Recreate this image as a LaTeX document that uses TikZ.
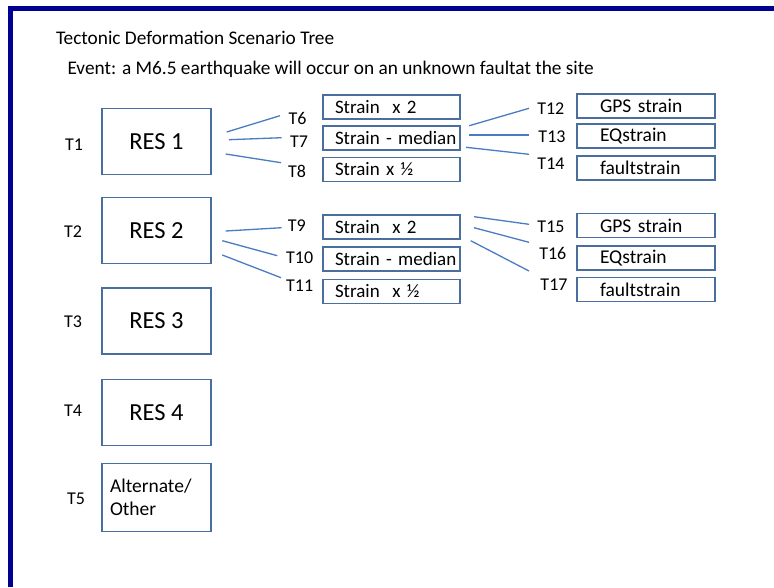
\documentclass[tikz,border=0pt]{standalone}
\usepackage{fontspec}
\setmainfont{Carlito}
\definecolor{framenavy}{HTML}{000092}
\definecolor{boxblue}{HTML}{4A6F9F}
\definecolor{linkblue}{HTML}{4A7CC4}
\begin{document}
\begin{tikzpicture}[x=1pt,y=-1pt,
  txt/.style={inner sep=0pt, outer sep=0pt, font=\fontsize{19.3}{23}\selectfont},
  tlabel/.style={inner sep=0pt, outer sep=0pt, font=\fontsize{18}{22}\selectfont},
  boxc/.style={draw=boxblue, line width=1.4pt, inner sep=0pt, outer sep=0pt},
  res/.style={boxc, minimum width=109pt, minimum height=66pt, font=\fontsize{24.5}{29}\selectfont},
  altbox/.style={boxc, minimum width=109pt, minimum height=68pt, inner xsep=8pt,
    text width=93pt, align=left, font=\fontsize{19.5}{23}\selectfont},
  strainbox/.style={boxc, minimum height=24pt, inner xsep=12pt, text width=113pt,
    align=left, font=\fontsize{19}{22}\selectfont},
  databox/.style={boxc, minimum height=24pt, inner xsep=23pt, text width=92pt,
    align=left, font=\fontsize{19.5}{22}\selectfont},
  link/.style={draw=linkblue, line width=1.3pt}]
\useasboundingbox (0,0) rectangle (774,587);
\fill[white] (0,0) rectangle (774,587);

% page frame: top and left rules
\coordinate (frameR) at (774,8.5);
\coordinate (frameC) at (10.6,8.5);
\coordinate (frameB) at (10.6,587);
\draw[framenavy, line width=5.2pt, line join=miter] (frameR) -- (frameC) -- (frameB);

% headings
\node[txt, anchor=base west] (title) at (56,44.3) {Tectonic Deformation Scenario Tree};
\node[txt, anchor=base west] (event) at (67.5,74) {Event: a M6.5 earthquake will occur on an unknown faultat the site};

% first level: resolutions
\node[res] (res1) at (156.5,141.5) {RES 1};
\node[res] (res2) at (156.5,230.3) {RES 2};
\node[res] (res3) at (156.5,321) {RES 3};
\node[res] (res4) at (156.5,412.5) {RES 4};
\node[altbox] (res5) at (156.5,497.2) {Alternate/\\Other};

\node[tlabel] (t1) at (74,145) {T1};
\node[tlabel] (t2) at (73,231.7) {T2};
\node[tlabel] (t3) at (73,321.7) {T3};
\node[tlabel] (t4) at (73,410.7) {T4};
\node[tlabel] (t5) at (76,498.3) {T5};

% second level: strain rates
\node[strainbox] (s6) at (391.5,107) {\mbox{Strain~ x 2}};
\node[strainbox] (s7) at (391.5,138) {\mbox{Strain - median}};
\node[strainbox] (s8) at (391.5,169.5) {\mbox{Strain x ½}};
\node[strainbox] (s9) at (391.5,227) {\mbox{Strain~ x 2}};
\node[strainbox] (s10) at (391.5,259) {\mbox{Strain - median}};
\node[strainbox] (s11) at (391.5,291.3) {\mbox{Strain~ x ½}};

\node[tlabel] (t6) at (297.5,118.3) {T6};
\node[tlabel] (t7) at (299,141.7) {T7};
\node[tlabel] (t8) at (297,171.7) {T8};
\node[tlabel] (t9) at (296.7,226) {T9};
\node[tlabel] (t10) at (299.7,257.3) {T10};
\node[tlabel] (t11) at (299.7,285.3) {T11};

% third level: strain sources
\node[databox] (g12) at (646,106) {\mbox{GPS strain}};
\node[databox] (g13) at (646,136) {\mbox{EQstrain}};
\node[databox] (g14) at (646,168) {\mbox{faultstrain}};
\node[databox] (g15) at (646,225.7) {\mbox{GPS strain}};
\node[databox] (g16) at (646,258) {\mbox{EQstrain}};
\node[databox] (g17) at (646,289.7) {\mbox{faultstrain}};

\node[tlabel] (t12) at (550.8,108.3) {T12};
\node[tlabel] (t13) at (552,137) {T13};
\node[tlabel] (t14) at (551,163.7) {T14};
\node[tlabel] (t15) at (551,226.7) {T15};
\node[tlabel] (t16) at (552.8,253.8) {T16};
\node[tlabel] (t17) at (554,285) {T17};

% branch ends
\coordinate (a6) at (226.7,132);    \coordinate (b6) at (280,115.7);
\coordinate (a7) at (229,139.7);    \coordinate (b7) at (281.7,137.7);
\coordinate (a8) at (225.7,154);    \coordinate (b8) at (281,162.7);
\coordinate (a9) at (225.7,231);    \coordinate (b9) at (281.7,227.7);
\coordinate (a10) at (222.3,240.7); \coordinate (b10) at (277.3,255.7);
\coordinate (a11) at (222.3,255);   \coordinate (b11) at (281,277.7);
\coordinate (a12) at (469.3,125.7); \coordinate (b12) at (529,108.3);
\coordinate (a13) at (469.3,135);   \coordinate (b13) at (529,135);
\coordinate (a14) at (466,147.3);   \coordinate (b14) at (529,154.3);
\coordinate (a15) at (474,216.7);   \coordinate (b15) at (529,224.3);
\coordinate (a16) at (474,227.7);   \coordinate (b16) at (529,242.3);
\coordinate (a17) at (470.7,240.7); \coordinate (b17) at (529,271);

% branches
\foreach \i in {6,...,17} {\draw[link] (a\i) -- (b\i);}
\end{tikzpicture}
\end{document}
